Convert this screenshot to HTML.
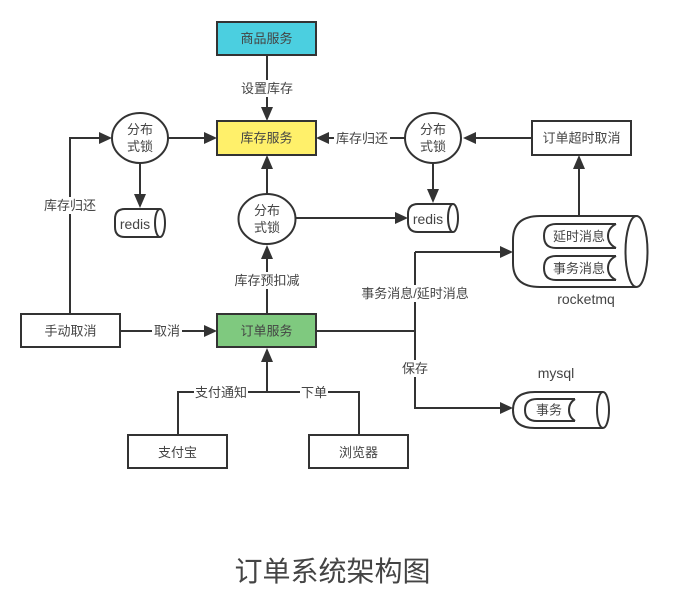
<!DOCTYPE html>
<html><head><meta charset="utf-8"><style>
html,body{margin:0;padding:0;background:#fff;width:674px;height:601px;overflow:hidden}
svg{display:block;filter:blur(0.35px)}
text{font-family:"Liberation Sans","Noto Sans CJK SC",sans-serif;font-size:13px;fill:#444;text-anchor:middle}
.e{font-size:14px}
.s{fill:none;stroke:#333;stroke-width:2}
.b{stroke:#333;stroke-width:2;fill:#fff}
.a{fill:#333;stroke:none}
.l{fill:#fff;stroke:none}
</style></head><body>
<svg width="674" height="601" viewBox="0 0 674 601">
<!-- connectors -->
<path class="s" d="M267 55V110M70 314V138H102M140 163V196M168 138H206M405 138H328M531 138H474M433 163V192M295 218H397M267 194V166M267 314V258M120 331H206M267 392V358M178 435V392H359V435M316 331H415M415 252V408H502M415 252H502M579 216V165"/>
<!-- arrowheads -->
<g class="a">
<path d="M267 121l-6-14h12z"/>
<path d="M112 138l-13-6v12z"/>
<path d="M217 138l-13-6v12z"/>
<path d="M316 138l13-6v12z"/>
<path d="M463 138l13-6v12z"/>
<path d="M140 208l-6-14h12z"/>
<path d="M433 203l-6-14h12z"/>
<path d="M408 218l-13-6v12z"/>
<path d="M267 155l-6 14h12z"/>
<path d="M267 245l-6 14h12z"/>
<path d="M217 331l-13-6v12z"/>
<path d="M267 348l-6 14h12z"/>
<path d="M513 252l-13-6v12z"/>
<path d="M513 408l-13-6v12z"/>
<path d="M579 155l-6 14h12z"/>
</g>
<!-- boxes -->
<rect x="217" y="22" width="99" height="33" fill="#4bcfe0" stroke="#333" stroke-width="2"/>
<rect x="217" y="121" width="99" height="34" fill="#fff06a" stroke="#333" stroke-width="2"/>
<rect x="217" y="314" width="99" height="33" fill="#7fc97f" stroke="#333" stroke-width="2"/>
<rect class="b" x="532" y="121" width="99" height="34"/>
<rect class="b" x="21" y="314" width="99" height="33"/>
<rect class="b" x="128" y="435" width="99" height="33"/>
<rect class="b" x="309" y="435" width="99" height="33"/>
<!-- circles -->
<ellipse class="b" cx="140" cy="138" rx="28" ry="25"/>
<ellipse class="b" cx="267" cy="219" rx="28.500" ry="25"/>
<ellipse class="b" cx="433" cy="138" rx="28" ry="25"/>
<!-- redis left -->
<path class="b" d="M160 209H125Q115 209 115 219V227Q115 237 125 237H160"/>
<ellipse class="b" cx="160" cy="223" rx="5" ry="14"/>
<!-- redis right -->
<path class="b" d="M453 204H418Q408 204 408 214V222Q408 232 418 232H453"/>
<ellipse class="b" cx="453" cy="218" rx="5" ry="14"/>
<!-- rocketmq -->
<path class="b" d="M636 216H540Q513 216 513 240V263Q513 287 540 287H636"/>
<ellipse class="b" cx="636.500" cy="251.500" rx="11" ry="35.500"/>
<path class="s" d="M616 224H556Q544 224 544 236Q544 248 556 248H616M616 224Q608 228 608 236Q608 244 616 248"/>
<path class="s" d="M616 256H556Q544 256 544 268Q544 280 556 280H616M616 256Q608 260 608 268Q608 276 616 280"/>
<!-- mysql -->
<path class="b" d="M603 392H535Q513 392 513 410Q513 428 535 428H603"/>
<ellipse class="b" cx="603" cy="410" rx="6" ry="18"/>
<path class="s" d="M575 399H537Q525 399 525 410Q525 421 537 421H575M575 399Q569 403 569 410Q569 417 575 421"/>
<!-- label backgrounds -->
<rect class="l" x="239" y="80" width="56" height="17"/>
<rect class="l" x="334" y="130" width="56" height="17"/>
<rect class="l" x="42" y="197" width="56" height="17"/>
<rect class="l" x="232" y="272" width="70" height="17"/>
<rect class="l" x="152" y="322" width="30" height="17"/>
<rect class="l" x="359" y="285" width="112" height="17"/>
<rect class="l" x="400" y="360" width="30" height="17"/>
<rect class="l" x="194" y="384" width="54" height="17"/>
<rect class="l" x="300" y="384" width="28" height="17"/>
<!-- labels -->
<text x="266.500" y="43">商品服务</text>
<text x="266.500" y="142.500">库存服务</text>
<text x="266.500" y="335.500">订单服务</text>
<text x="581.500" y="142.500">订单超时取消</text>
<text x="70.500" y="335.500">手动取消</text>
<text x="177.500" y="457">支付宝</text>
<text x="358.500" y="457">浏览器</text>
<text x="140" y="134">分布</text><text x="140" y="151">式锁</text>
<text x="267" y="215">分布</text><text x="267" y="232">式锁</text>
<text x="433" y="134">分布</text><text x="433" y="151">式锁</text>
<text class="e" x="135" y="229">redis</text>
<text class="e" x="428" y="224">redis</text>
<text x="579" y="241">延时消息</text>
<text x="579" y="273">事务消息</text>
<text x="549" y="414.500">事务</text>
<text class="e" x="586" y="304">rocketmq</text>
<text class="e" x="556" y="378">mysql</text>
<text x="267" y="93">设置库存</text>
<text x="362" y="143">库存归还</text>
<text x="70" y="210">库存归还</text>
<text x="267" y="285">库存预扣减</text>
<text x="167" y="335.500">取消</text>
<text x="415" y="298">事务消息/延时消息</text>
<text x="415" y="373">保存</text>
<text x="221" y="397">支付通知</text>
<text x="314" y="397">下单</text>
<text x="332.500" y="581" style="font-size:28px">订单系统架构图</text>
</svg>
</body></html>
